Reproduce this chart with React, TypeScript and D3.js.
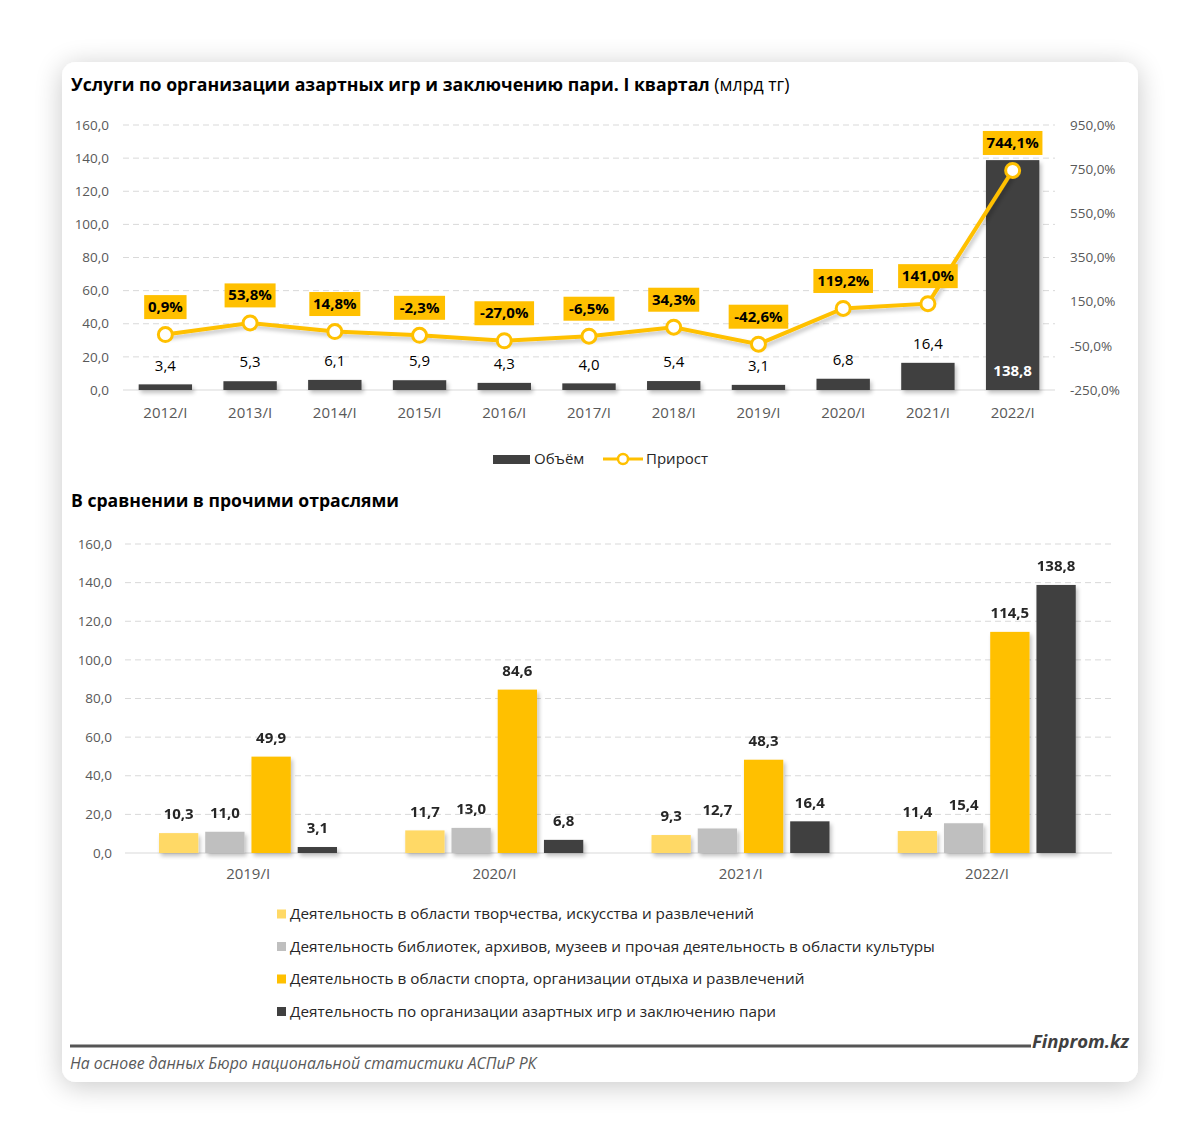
import React from "react";
import * as d3 from "d3";

const periods = ["2012/I","2013/I","2014/I","2015/I","2016/I","2017/I","2018/I","2019/I","2020/I","2021/I","2022/I"];
const volume = [3.4,5.3,6.1,5.9,4.3,4.0,5.4,3.1,6.8,16.4,138.8];
const growth = [0.9,53.8,14.8,-2.3,-27.0,-6.5,34.3,-42.6,119.2,141.0,744.1];
const leftTicks = [0,20,40,60,80,100,120,140,160];
const rightTicks = [-250,-50,150,350,550,750,950];

const groups = ["2019/I","2020/I","2021/I","2022/I"];
const seriesNames = [
  "Деятельность в области творчества, искусства и развлечений",
  "Деятельность библиотек, архивов, музеев и прочая деятельность в области культуры",
  "Деятельность в области спорта, организации отдыха и развлечений",
  "Деятельность по организации азартных игр и заключению пари",
];
const creative = [10.3,11.7,9.3,11.4];
const libraries = [11.0,13.0,12.7,15.4];
const sport = [49.9,84.6,48.3,114.5];
const gambling = [3.1,6.8,16.4,138.8];
const seriesValues = [creative, libraries, sport, gambling];
const seriesColors = ["#FFD966","#BFBFBF","#FFC000","#404040"];
const bottomTicks = [0,20,40,60,80,100,120,140,160];

const FONT = "'Open Sans', 'DejaVu Sans', sans-serif";
const fmt = (v: number) => v.toFixed(1).replace(".", ",");
const fmtPct = (v: number) => v.toFixed(1).replace(".", ",") + "%";

export default function App() {
  const x = d3.scaleBand<string>().domain(periods).range([123, 1055]).paddingInner(0.37).paddingOuter(0.185);
  const yL = d3.scaleLinear().domain([0, 160]).range([390, 125]);
  const yR = d3.scaleLinear().domain([-250, 950]).range([390, 125]);
  const line = d3.line<number>()
    .x((_, i) => (x(periods[i]) as number) + x.bandwidth() / 2)
    .y((d) => yR(d));

  const x0 = d3.scaleBand<string>().domain(groups).range([125, 1110]);
  const x1 = d3.scaleBand<string>().domain(seriesNames).range([34, 212]).paddingInner(0.15);
  const yB = d3.scaleLinear().domain([0, 160]).range([853, 544]);

  const tickColor = "#595959";

  return (
    <svg width={1200} height={1146} style={{ position: "absolute", left: 0, top: 0, fontFamily: FONT }}>
      <defs>
        <filter id="card" x="-10%" y="-10%" width="120%" height="120%">
          <feGaussianBlur in="SourceAlpha" stdDeviation="14" />
          <feOffset dx="0" dy="4" />
          <feComponentTransfer><feFuncA type="linear" slope="0.22" /></feComponentTransfer>
          <feMerge><feMergeNode /><feMergeNode in="SourceGraphic" /></feMerge>
        </filter>
        <filter id="sh" x="-20%" y="-20%" width="150%" height="150%">
          <feGaussianBlur in="SourceAlpha" stdDeviation="2" />
          <feOffset dx="2" dy="3" />
          <feComponentTransfer><feFuncA type="linear" slope="0.25" /></feComponentTransfer>
          <feMerge><feMergeNode /><feMergeNode in="SourceGraphic" /></feMerge>
        </filter>
      </defs>
      <rect x={0} y={0} width={1200} height={1146} fill="#ffffff" />
      <rect x={62} y={62} width={1076} height={1020} rx={14} fill="#ffffff" filter="url(#card)" />

      <text x={71} y={91} fontSize={17.7} fill="#000">
        <tspan fontWeight="bold">Услуги по организации азартных игр и заключению пари. I квартал</tspan>
        <tspan> (млрд тг)</tspan>
      </text>

      {leftTicks.map((t) => (
        <g key={"lt" + t}>
          {t > 0 && <line x1={123} x2={1055} y1={yL(t)} y2={yL(t)} stroke="#D9D9D9" strokeDasharray="6,4" />}
          <text x={109} y={yL(t)} dy="0.35em" textAnchor="end" fontSize={13.5} fill={tickColor}>{fmt(t)}</text>
        </g>
      ))}
      <line x1={123} x2={1055} y1={yL(0)} y2={yL(0)} stroke="#D9D9D9" />
      {rightTicks.map((t) => (
        <text key={"rt" + t} x={1070} y={yR(t)} dy="0.35em" fontSize={13.5} fill={tickColor}>{fmtPct(t)}</text>
      ))}
      {periods.map((p) => (
        <text key={"xl" + p} x={(x(p) as number) + x.bandwidth() / 2} y={413} dy="0.35em" textAnchor="middle" fontSize={15} fill={tickColor}>{p}</text>
      ))}

      <g filter="url(#sh)">
        {volume.map((v, i) => (
          <rect key={"b" + i} x={x(periods[i]) as number} y={yL(v)} width={x.bandwidth()} height={yL(0) - yL(v)} fill="#404040" />
        ))}
      </g>
      {volume.map((v, i) => {
        const cx = (x(periods[i]) as number) + x.bandwidth() / 2;
        const inside = v > 100;
        return (
          <text key={"bl" + i} x={cx} y={inside ? yL(0) - 19 : yL(v) - 19} dy="0.35em" textAnchor="middle"
            fontSize={15} fontWeight={inside ? "bold" : "normal"} fill={inside ? "#ffffff" : "#000"}>{fmt(v)}</text>
        );
      })}

      <path d={line(growth) as string} fill="none" stroke="#FFC000" strokeWidth={4} filter="url(#sh)" />
      {growth.map((g, i) => {
        const cx = (x(periods[i]) as number) + x.bandwidth() / 2;
        return <circle key={"c" + i} cx={cx} cy={yR(g)} r={7} fill="#fff" stroke="#FFC000" strokeWidth={3} />;
      })}
      {growth.map((g, i) => {
        const cx = (x(periods[i]) as number) + x.bandwidth() / 2;
        const label = fmtPct(g);
        const w = label.length * 8.6 + 8;
        const cy = yR(g) - 28;
        return (
          <g key={"gl" + i}>
            <rect x={cx - w / 2} y={cy - 11.5} width={w} height={24} fill="#FFC000" />
            <text x={cx} y={cy} dy="0.36em" textAnchor="middle" fontSize={15} fontWeight="bold" fill="#000">{label}</text>
          </g>
        );
      })}

      <rect x={493} y={455} width={37} height={9} fill="#404040" />
      <text x={534} y={459} dy="0.35em" fontSize={15} fill="#262626">Объём</text>
      <line x1={603} x2={643} y1={459} y2={459} stroke="#FFC000" strokeWidth={3} />
      <circle cx={623} cy={459} r={5} fill="#fff" stroke="#FFC000" strokeWidth={2.5} />
      <text x={646} y={459} dy="0.35em" fontSize={15} fill="#262626">Прирост</text>

      <text x={71} y={507} fontSize={17.6} fontWeight="bold" fill="#000">В сравнении в прочими отраслями</text>

      {bottomTicks.map((t) => (
        <g key={"bt" + t}>
          {t > 0 && <line x1={125} x2={1112} y1={yB(t)} y2={yB(t)} stroke="#D9D9D9" strokeDasharray="6,4" />}
          <text x={112} y={yB(t)} dy="0.35em" textAnchor="end" fontSize={13.5} fill={tickColor}>{fmt(t)}</text>
        </g>
      ))}
      <line x1={125} x2={1112} y1={yB(0)} y2={yB(0)} stroke="#D9D9D9" />
      {groups.map((gname) => (
        <text key={"gx" + gname} x={(x0(gname) as number) + x0.bandwidth() / 2} y={874} dy="0.35em" textAnchor="middle" fontSize={15} fill={tickColor}>{gname}</text>
      ))}
      <g filter="url(#sh)">
        {groups.map((gname, gi) => (
          <g key={"gg" + gname} transform={`translate(${x0(gname)},0)`}>
            {seriesNames.map((s, si) => {
              const v = seriesValues[si][gi];
              return <rect key={s} x={x1(s) as number} y={yB(v)} width={x1.bandwidth()} height={yB(0) - yB(v)} fill={seriesColors[si]} />;
            })}
          </g>
        ))}
      </g>
      {groups.map((gname, gi) => (
        <g key={"gt" + gname} transform={`translate(${x0(gname)},0)`}>
          {seriesNames.map((s, si) => {
            const v = seriesValues[si][gi];
            return (
              <text key={s} x={(x1(s) as number) + x1.bandwidth() / 2} y={yB(v) - 19} dy="0.35em" textAnchor="middle" fontSize={15} fontWeight="bold" fill="#262626">{fmt(v)}</text>
            );
          })}
        </g>
      ))}

      {seriesNames.map((s, si) => (
        <g key={"lg" + si}>
          <rect x={277} y={909.5 + si * 32.5} width={9} height={9} fill={seriesColors[si]} />
          <text x={290} y={914 + si * 32.5} dy="0.35em" fontSize={15.3} fill="#262626">{s}</text>
        </g>
      ))}

      <line x1={70} x2={1031} y1={1046} y2={1046} stroke="#555555" strokeWidth={3} />
      <text x={1032} y={1048} fontSize={18.5} fontStyle="italic" fontWeight="bold" fill="#404040">Finprom.kz</text>
      <text x={70} y={1069} fontSize={15.8} fontStyle="italic" fill="#595959">На основе данных Бюро национальной статистики АСПиР РК</text>
    </svg>
  );
}
